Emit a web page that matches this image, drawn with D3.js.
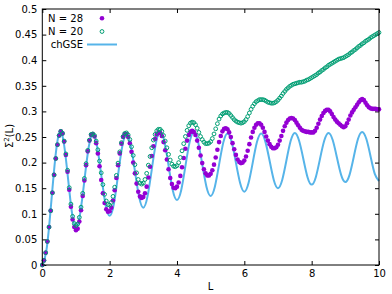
<!DOCTYPE html>
<html>
<head>
<meta charset="utf-8">
<script src="https://cdn.jsdelivr.net/npm/d3@7"></script>
<style>
body { margin: 0; background: #fff; }
text { font-family: "DejaVu Sans", sans-serif; font-size: 10px; fill: #000; }
</style>
</head>
<body>
<script>
// sampled every 0.05 in L
var step = 0.05;
var n28 = [
  0.000,0.009,0.024,0.046,0.074,0.106,0.141,0.176,0.208,0.235,
  0.253,0.261,0.257,0.241,0.215,0.182,0.147,0.114,0.089,0.074,
  0.068,0.071,0.085,0.107,0.135,0.165,0.195,0.222,0.243,0.254,
  0.256,0.251,0.238,0.218,0.193,0.166,0.140,0.121,0.109,0.104,
  0.105,0.112,0.126,0.146,0.170,0.195,0.218,0.237,0.250,0.256,
  0.256,0.250,0.238,0.221,0.200,0.179,0.159,0.143,0.134,0.131,
  0.133,0.140,0.153,0.171,0.192,0.213,0.232,0.246,0.255,0.259,
  0.258,0.252,0.240,0.224,0.206,0.187,0.170,0.158,0.151,0.150,
  0.153,0.161,0.174,0.191,0.209,0.227,0.243,0.254,0.260,0.262,
  0.260,0.254,0.243,0.229,0.214,0.199,0.187,0.179,0.175,0.175,
  0.178,0.185,0.196,0.210,0.225,0.240,0.252,0.261,0.266,0.267,
  0.265,0.259,0.250,0.238,0.226,0.215,0.206,0.201,0.199,0.200,
  0.204,0.212,0.223,0.236,0.249,0.260,0.268,0.274,0.277,0.277,
  0.274,0.268,0.260,0.251,0.243,0.236,0.231,0.228,0.228,0.230,
  0.235,0.243,0.252,0.262,0.271,0.278,0.283,0.286,0.287,0.286,
  0.283,0.278,0.273,0.268,0.264,0.262,0.261,0.260,0.260,0.259,
  0.259,0.259,0.262,0.268,0.276,0.284,0.291,0.297,0.301,0.303,
  0.303,0.300,0.295,0.289,0.284,0.280,0.277,0.274,0.271,0.269,
  0.271,0.277,0.284,0.292,0.298,0.303,0.308,0.313,0.318,0.322,
  0.324,0.322,0.317,0.312,0.308,0.306,0.305,0.305,0.305,0.304,
  0.304
];
var n20 = [
  0.000,0.009,0.024,0.046,0.074,0.106,0.141,0.176,0.208,0.235,
  0.253,0.261,0.257,0.242,0.217,0.185,0.151,0.119,0.095,0.081,
  0.077,0.080,0.093,0.113,0.140,0.169,0.198,0.224,0.244,0.255,
  0.256,0.253,0.242,0.225,0.203,0.180,0.157,0.138,0.125,0.118,
  0.117,0.122,0.134,0.152,0.175,0.199,0.221,0.239,0.251,0.257,
  0.258,0.254,0.245,0.231,0.214,0.196,0.180,0.167,0.160,0.158,
  0.160,0.167,0.179,0.195,0.212,0.229,0.244,0.255,0.262,0.265,
  0.265,0.261,0.253,0.242,0.229,0.216,0.205,0.197,0.193,0.192,
  0.194,0.200,0.210,0.223,0.237,0.251,0.263,0.272,0.277,0.279,
  0.278,0.274,0.267,0.259,0.251,0.245,0.240,0.237,0.237,0.238,
  0.241,0.247,0.256,0.266,0.276,0.285,0.291,0.295,0.297,0.298,
  0.298,0.296,0.292,0.288,0.284,0.281,0.279,0.278,0.277,0.278,
  0.280,0.284,0.290,0.297,0.304,0.310,0.315,0.319,0.321,0.323,
  0.323,0.323,0.322,0.320,0.318,0.317,0.316,0.316,0.317,0.319,
  0.322,0.326,0.330,0.335,0.339,0.343,0.346,0.349,0.351,0.353,
  0.354,0.355,0.356,0.357,0.357,0.358,0.359,0.361,0.362,0.364,
  0.366,0.368,0.370,0.372,0.375,0.377,0.380,0.382,0.385,0.387,
  0.390,0.392,0.394,0.396,0.398,0.400,0.402,0.403,0.404,0.405,
  0.407,0.409,0.411,0.414,0.416,0.419,0.421,0.424,0.427,0.429,
  0.432,0.434,0.437,0.439,0.441,0.444,0.446,0.448,0.450,0.452,
  0.454
];
// chGSE read every 0.125 in L
var stepC = 0.125;
var chGSE = [
  0.000,0.030,0.110,0.202,0.257,0.244,0.178,0.105,
  0.073,0.101,0.165,0.229,0.256,0.233,0.176,0.119,
  0.096,0.119,0.176,0.232,0.255,0.234,0.184,0.133,
  0.112,0.134,0.186,0.238,0.260,0.241,0.194,0.146,
  0.127,0.146,0.193,0.240,0.259,0.241,0.197,0.153,
  0.135,0.153,0.196,0.239,0.257,0.240,0.200,0.160,
  0.143,0.160,0.200,0.240,0.257,0.241,0.204,0.166,
  0.150,0.166,0.204,0.242,0.258,0.243,0.208,0.172,
  0.157,0.172,0.208,0.243,0.258,0.244,0.210,0.176,
  0.162,0.176,0.211,0.246,0.260,0.246,0.212,0.178,
  0.164
];
var xTicks = [0, 2, 4, 6, 8, 10];
var yTicks = [0, 0.05, 0.1, 0.15, 0.2, 0.25, 0.3, 0.35, 0.4, 0.45, 0.5];
var legendLabels = ['N = 28', 'N = 20', 'chGSE'];

var width = 392, height = 294;
var margin = {top: 9, right: 13, bottom: 29, left: 42.3};

var svg = d3.select('body')
  .append('svg')
  .attr('width', width)
  .attr('height', height);

var x = d3.scaleLinear().domain([0, 10]).range([margin.left, width - margin.right]);
var y = d3.scaleLinear().domain([0, 0.5]).range([height - margin.bottom, margin.top]);

var fmt = function(d) { return String(+d.toFixed(2)); };

// axes, ticks pointing inward
svg.append('g')
  .attr('transform', 'translate(0,' + y(0) + ')')
  .call(d3.axisBottom(x).tickValues(xTicks).tickFormat(fmt).tickSizeInner(-4).tickSizeOuter(0).tickPadding(5))
  .call(function(g) { g.select('.domain').remove(); });
svg.append('g')
  .attr('transform', 'translate(0,' + y(0.5) + ')')
  .call(d3.axisTop(x).tickValues(xTicks).tickFormat('').tickSizeInner(-4).tickSizeOuter(0))
  .call(function(g) { g.select('.domain').remove(); });
svg.append('g')
  .attr('transform', 'translate(' + x(0) + ',0)')
  .call(d3.axisLeft(y).tickValues(yTicks).tickFormat(fmt).tickSizeInner(-4).tickSizeOuter(0).tickPadding(5))
  .call(function(g) { g.select('.domain').remove(); });
svg.append('g')
  .attr('transform', 'translate(' + x(10) + ',0)')
  .call(d3.axisRight(y).tickValues(yTicks).tickFormat('').tickSizeInner(-4).tickSizeOuter(0))
  .call(function(g) { g.select('.domain').remove(); });

svg.selectAll('.tick text')
  .style('font-family', '"DejaVu Sans", sans-serif')
  .style('font-size', '10px')
  .attr('fill', '#000');
svg.selectAll('.tick line').attr('stroke', '#000');

// chGSE line
var line = d3.line()
  .x(function(d, i) { return x(i * stepC); })
  .y(function(d) { return y(d); })
  .curve(d3.curveNatural);

svg.append('path')
  .datum(chGSE)
  .attr('d', line)
  .attr('fill', 'none')
  .attr('stroke', '#56b4e9')
  .attr('stroke-width', 2);

// N = 28 filled dots
svg.selectAll('circle.n28')
  .data(n28)
  .enter().append('circle')
  .attr('class', 'n28')
  .attr('cx', function(d, i) { return x(i * step); })
  .attr('cy', function(d) { return y(d); })
  .attr('r', 2.3)
  .attr('fill', '#9400d3');

// N = 20 open circles
svg.selectAll('circle.n20')
  .data(n20)
  .enter().append('circle')
  .attr('class', 'n20')
  .attr('cx', function(d, i) { return x(i * step); })
  .attr('cy', function(d) { return y(d); })
  .attr('r', 1.9)
  .attr('fill', 'none')
  .attr('stroke', '#009e73')
  .attr('stroke-width', 1);

// border
svg.append('rect')
  .attr('x', x(0))
  .attr('y', y(0.5))
  .attr('width', x(10) - x(0))
  .attr('height', y(0) - y(0.5))
  .attr('fill', 'none')
  .attr('stroke', '#000')
  .attr('stroke-width', 1);

// legend
var legY = [18.3, 31.5, 44.5];
svg.selectAll('text.leg')
  .data(legendLabels)
  .enter().append('text')
  .attr('class', 'leg')
  .attr('x', 83)
  .attr('y', function(d, i) { return legY[i]; })
  .attr('dy', '0.35em')
  .attr('text-anchor', 'end')
  .text(function(d) { return d; });
svg.append('circle').attr('cx', 102).attr('cy', legY[0]).attr('r', 2.3).attr('fill', '#9400d3');
svg.append('circle').attr('cx', 102).attr('cy', legY[1]).attr('r', 1.9)
  .attr('fill', 'none').attr('stroke', '#009e73').attr('stroke-width', 1);
svg.append('line')
  .attr('x1', 87).attr('x2', 117)
  .attr('y1', legY[2]).attr('y2', legY[2])
  .attr('stroke', '#56b4e9').attr('stroke-width', 2);

// axis titles
svg.append('text')
  .attr('x', x(5))
  .attr('y', 290)
  .attr('text-anchor', 'middle')
  .text('L');

var yl = svg.append('text')
  .attr('transform', 'translate(13,' + 136 + ') rotate(-90)')
  .attr('text-anchor', 'middle');
yl.append('tspan').text('Σ');
yl.append('tspan').attr('dy', -4).style('font-size', '7px').text('2');
yl.append('tspan').attr('dy', 4).text('(L)');
</script>
</body>
</html>
